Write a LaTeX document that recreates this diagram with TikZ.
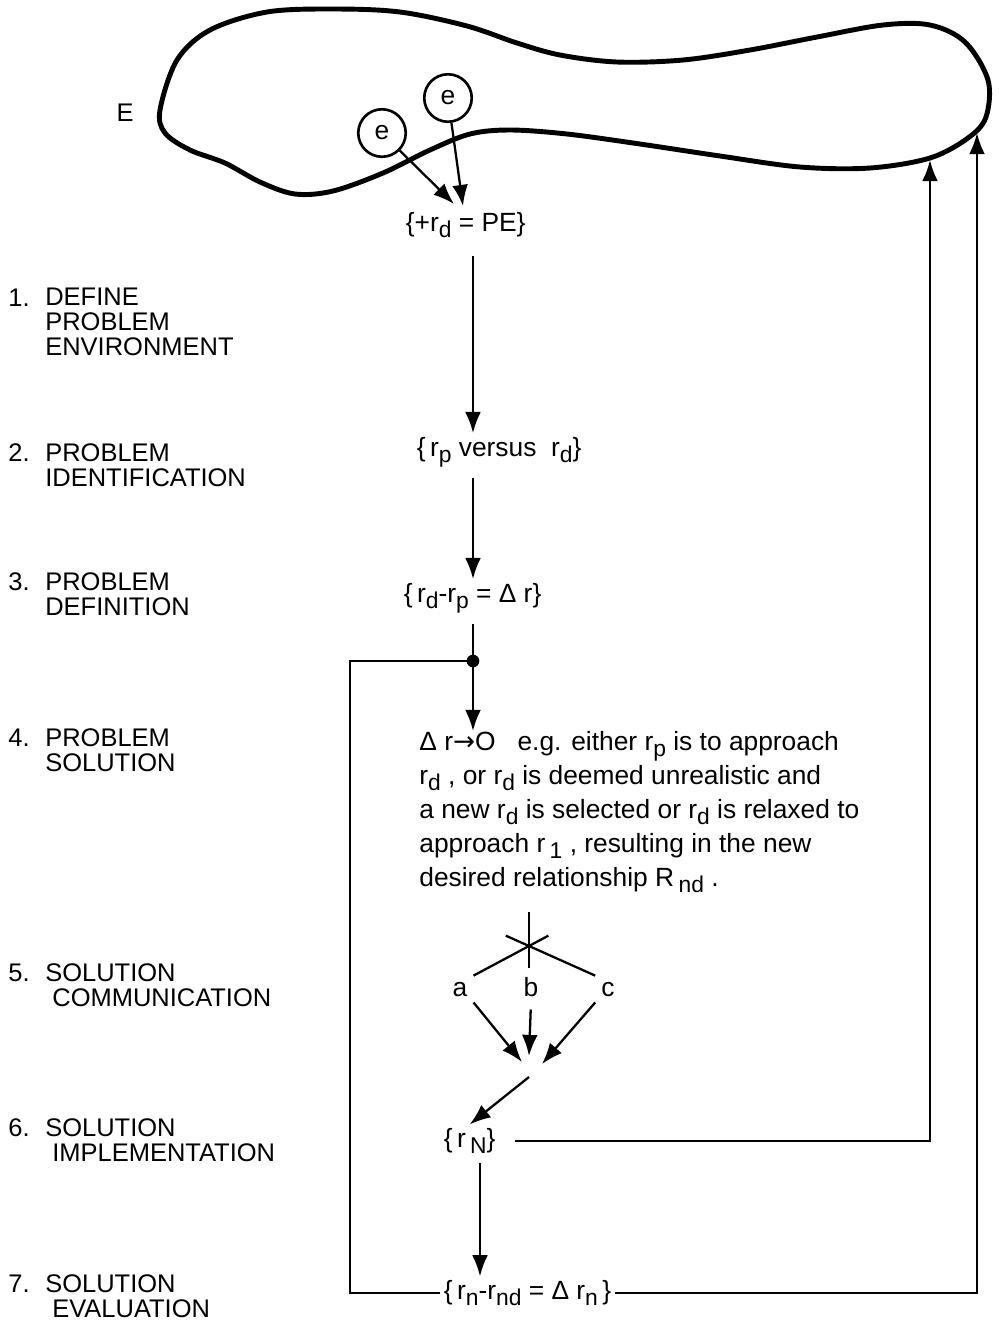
\documentclass[tikz,border=0pt]{standalone}
\usepackage{fontspec}
\setmainfont{Liberation Sans}
\newfontfamily\arrowfont{DejaVu Sans}
\usetikzlibrary{positioning, arrows.meta, calc}

% lowered index letters, as the figure sets them
\newcommand{\lo}[1]{\raisebox{-3.6pt}{\fontsize{13}{13}\selectfont #1}}

\tikzset{
  phase/.style={anchor=north west, align=left, inner sep=0pt, font=\fontsize{14.5}{14.2}\selectfont},
  phasenum/.style={anchor=base west, inner sep=0pt, font=\fontsize{14.5}{14.2}\selectfont},
  formula/.style={anchor=west, inner sep=2pt, font=\fontsize{15}{18}\selectfont},
  flow/.style={line width=1.3pt, -{Latex[length=12pt,width=9pt]}},
  link/.style={line width=1.3pt},
  elem/.style={circle, draw, line width=1.5pt, minimum size=0.95cm, inner sep=0pt, font=\fontsize{15}{15}\selectfont},
  branch/.style={anchor=base, font=\fontsize{15}{15}\selectfont},
}

\begin{document}
\begin{tikzpicture}[x=0.02cm, y=-0.02cm]
          \useasboundingbox (0,0) rectangle (999,1320);

          % the environment
          \draw[line width=2.8pt] plot[smooth cycle, tension=0.55] coordinates {
              (160,110) (177,60) (210,30) (267,12) (333,9) (400,12) (467,26)
              (517,43) (560,55) (617,62) (683,60) (750,50) (817,37) (883,25)
              (930,25) (965,42) (988,80) (986,117) (968,138) (930,158)
              (870,168) (800,167) (720,156) (640,144) (567,134) (510,130)
              (470,134) (430,150) (383,173) (333,191) (295,194) (260,182)
              (225,163) (190,150) (165,133)};
          \node[font=\fontsize{14.5}{14.5}\selectfont] (envname) at (125,113) {E};
          \node[elem] (e1) at (382,133) {e};
          \node[elem] (e2) at (448,98) {e};
          \coordinate (tipa) at (454,204);
          \coordinate (tipb) at (463,206);
          \coordinate (hitA) at (930,160);
          \coordinate (hitB) at (977,133);

          % phase names
          \foreach \n/\y/\txt in {
              1/288/{DEFINE\\PROBLEM\\ENVIRONMENT},
              2/443/{PROBLEM\\IDENTIFICATION},
              3/572/{PROBLEM\\DEFINITION},
              4/728/{PROBLEM\\SOLUTION},
              5/963/{SOLUTION\\\hspace*{4pt}COMMUNICATION},
              6/1118/{SOLUTION\\\hspace*{4pt}IMPLEMENTATION},
              7/1274/{SOLUTION\\\hspace*{4pt}EVALUATION}}
          {
              \node[phase] (phase\n) at (45,\y) {\txt};
              \node[phasenum] (num\n) at (8,{\y+18.3}) {\n.};
          }

          % relations
          \node[formula] (env) at (402,225) {\{+r\lo{d} = PE\}};
          \node[formula] (ident) at (413,452) {\{\,r\lo{p}\ versus\ \ r\lo{d}\}};
          \node[formula] (defn) at (400,598) {\{\,r\lo{d}-r\lo{p} = Δ r\}};
          \coordinate (split) at (473,661);
          \node[formula, anchor=north west, align=left, inner sep=0pt,
                font=\fontsize{15}{19.3}\selectfont] (solve) at (419,731)
              {Δ r{\arrowfont →}O\ \ \ e.g. either r\lo{p} is to approach\\
               r\lo{d} , or r\lo{d} is deemed unrealistic and\\
               a new r\lo{d} is selected or r\lo{d} is relaxed to\\
               approach r\,\lo{1} , resulting in the new\\
               desired relationship R\,\lo{nd} .};

          % communication to a, b, c
          \coordinate (cross) at (529,946);
          \coordinate (crosstop) at (529,912);
          \coordinate (crossbot) at (529,968);
          \node[branch] (a) at (460,996) {a};
          \node[branch] (b) at (531,996) {b};
          \node[branch] (c) at (608,996) {c};
          \coordinate (ma) at (522,1062);
          \coordinate (mb) at (529,1056);
          \coordinate (mc) at (542,1064);
          \coordinate (mout) at (529,1077);

          \node[formula] (rN) at (440,1141) {\{\,r\,\lo{N}\}};
          \node[formula] (eval) at (440,1293) {\{\,r\lo{n}-r\lo{nd} = Δ r\lo{n}\,\}};
          \coordinate (loopcorner) at (350,1293);

          % connectors
          \draw[flow] (e1) -- (tipa);
          \draw[flow] (e2) -- (tipb);
          \draw[flow, shorten <=8pt] (env.south -| split) -- (ident.north -| split);
          \draw[flow, shorten <=4pt] (ident.south -| split) -- (defn.north -| split);
          \draw[link, shorten <=4pt] (defn.south -| split) -- (split);
          \draw[flow] (split) -- (solve.north -| split);
          \fill (split) circle (3.6pt);
          \draw[link] (split) -| (loopcorner) -- (eval.west);

          \draw[link] (crosstop) -- (crossbot);
          \draw[link] ($(cross)!-0.35!(a.north east)$) -- (a.north east);
          \draw[link] ($(cross)!-0.35!(c.north west)$) -- (c.north west);
          \draw[flow] (a.south east) -- (ma);
          \draw[flow, shorten <=4pt] (b.south) -- (mb);
          \draw[flow] (c.south west) -- (mc);
          \draw[flow] (mout) -- (rN.north);

          \draw[flow, shorten <=8pt] ([xshift=1pt]rN.east) ++(0,0.17) -| (hitA);
          \draw[flow, shorten <=3pt] (rN.south -| 480,0) -- (eval.north -| 480,0);
          \draw[flow] (eval.east) -| (hitB);
\end{tikzpicture}
\end{document}
